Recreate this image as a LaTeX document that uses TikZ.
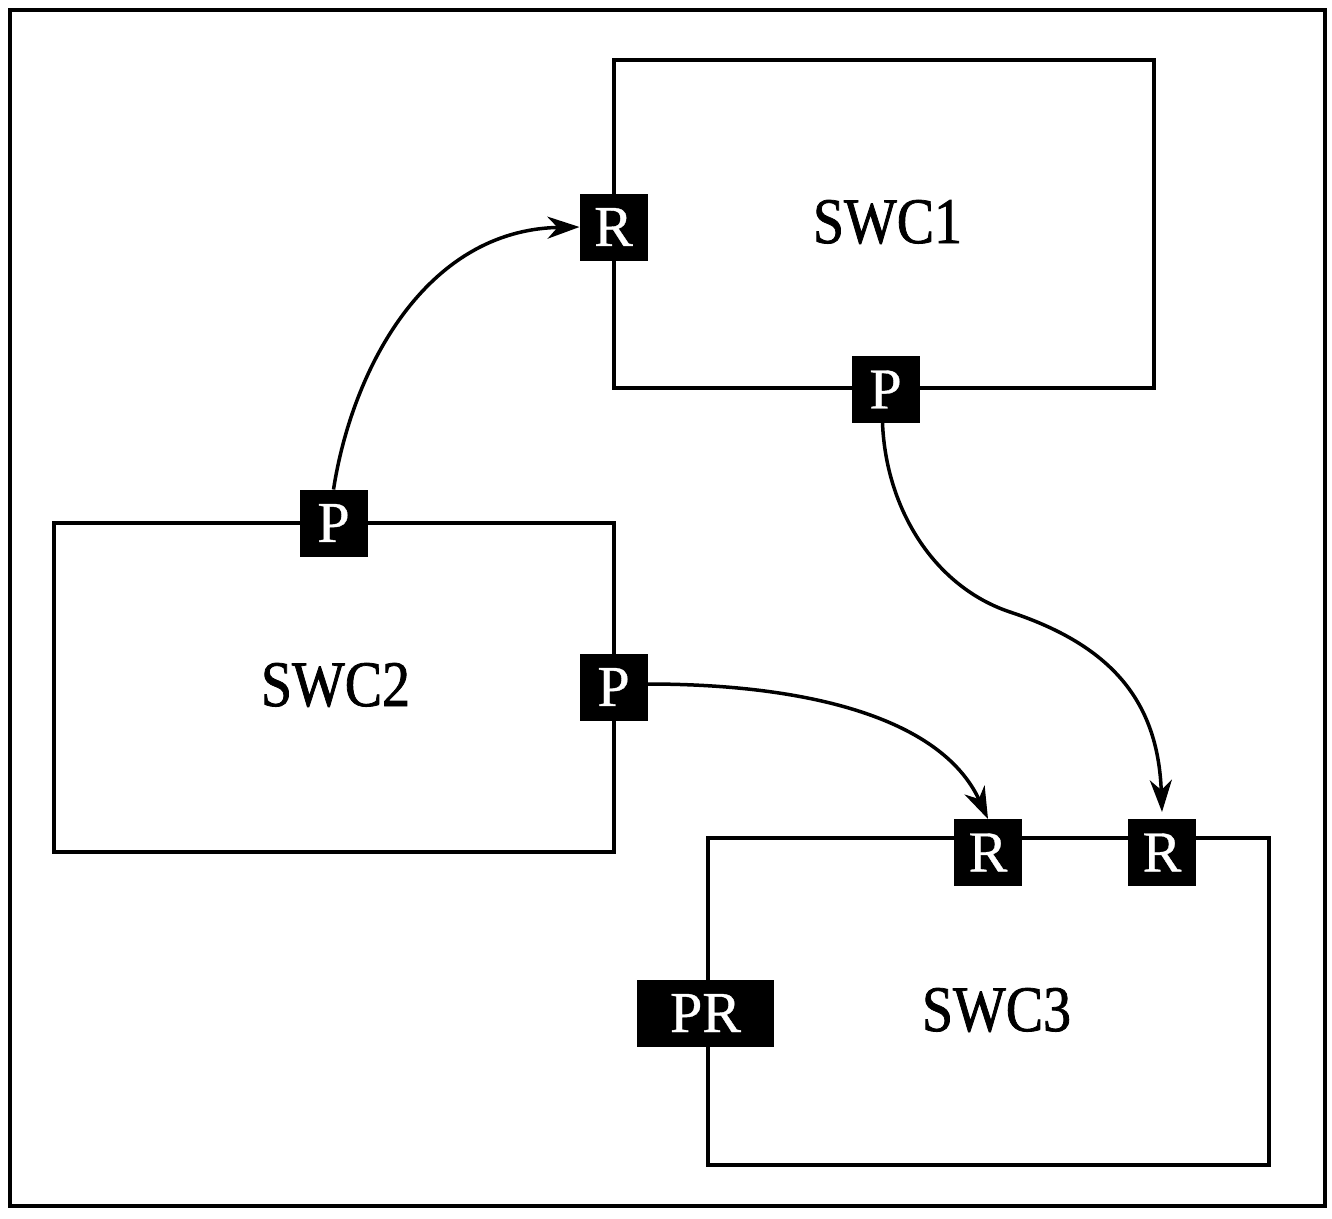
\documentclass[tikz,border=0pt]{standalone}
\usepackage{fontspec}
\setmainfont{Liberation Serif}
\newfontfamily\swcfont[FakeStretch=0.86,FakeBold=1.2]{Liberation Serif}
\newfontfamily\portfont[FakeBold=0.6]{Liberation Serif}
\usetikzlibrary{arrows.meta}
\begin{document}
\begin{tikzpicture}[x=1pt,y=-1pt,
  swcbox/.style={draw, line width=4pt, inner sep=0pt, outer sep=0pt},
  swctext/.style={anchor=base, inner sep=0pt, font=\swcfont\fontsize{65}{65}\selectfont},
  port/.style={fill=black, text=white, inner sep=0pt, outer sep=0pt, minimum width=68pt, minimum height=67pt, font=\portfont\fontsize{58}{58}\selectfont},
  conn/.style={line width=3.5pt, -{Stealth[length=32pt,width=22pt,inset=10pt]}}]
\useasboundingbox (0,0) rectangle (1332,1218);
\fill[white] (0,0) rectangle (1332,1218);
\draw[line width=4.5pt] (10,10) rectangle (1325,1206);
% components
\node[swcbox, minimum width=540pt, minimum height=328pt] (swc1) at (884,224) {};
\node[swcbox, minimum width=560pt, minimum height=329pt] (swc2) at (334,687.5) {};
\node[swcbox, minimum width=561pt, minimum height=327pt] (swc3) at (988.5,1001.5) {};
\node[swctext] (t1) at (887.5,243) {SWC1};
\node[swctext] (t2) at (335.5,706) {SWC2};
\node[swctext] (t3) at (996.5,1031) {SWC3};
% ports
\node[port] (r1) at (613.5,227) {R};
\node[port] (p1) at (885.5,389.5) {P};
\node[port] (p2t) at (333.5,523) {P};
\node[port] (p2r) at (613.5,687) {P};
\node[port] (r3a) at (988,852.5) {R};
\node[port] (r3b) at (1162,852.5) {R};
\node[port, minimum width=137pt] (pr3) at (705.5,1013) {PR};
% connectors
\draw[conn] (p2t.north) .. controls (352,370) and (425,230) .. (r1.west);
\draw[conn] ([yshift=3pt]p2r.east) .. controls (800,684) and (940,715) .. (r3a.north);
\draw[conn] ([xshift=-3pt]p1.south) .. controls (886,510) and (935,587) .. (1010,612)
  .. controls (1110,645) and (1158,700) .. ([yshift=7pt]r3b.north);
\end{tikzpicture}
\end{document}
